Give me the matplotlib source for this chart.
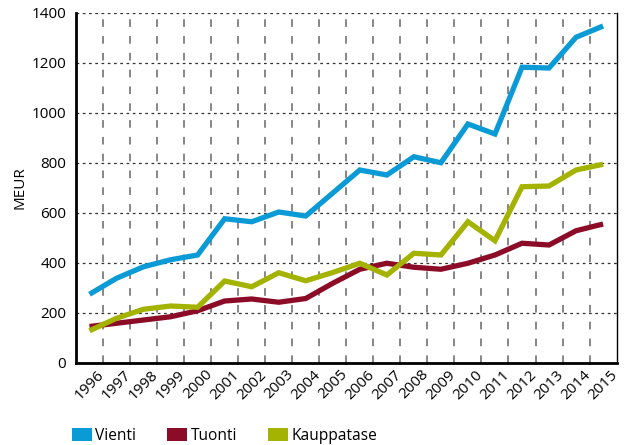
import matplotlib
matplotlib.use("Agg")
import matplotlib.pyplot as plt
from matplotlib.patches import Patch
import numpy as np

# Data (MEUR)
years = [str(y) for y in range(1996, 2016)]
vienti = [275, 339, 385, 413, 432, 577, 565, 604, 588, 680,
          772, 752, 825, 801, 956, 916, 1183, 1180, 1303, 1348]
tuonti = [146, 159, 172, 185, 209, 248, 256, 243, 258, 319,
          375, 399, 383, 375, 399, 432, 479, 472, 529, 556]
kauppatase = [129, 179, 215, 228, 223, 328, 305, 361, 329, 362,
              399, 352, 439, 432, 565, 489, 705, 708, 772, 795]

series_names = ["Vienti", "Tuonti", "Kauppatase"]
series_colors = ["#0a9bd7", "#8c0c28", "#a3b300"]

plt.rcParams['font.family'] = ['Open Sans', 'DejaVu Sans']

fig = plt.figure(figsize=(6.24, 4.45), dpi=100)
ax = fig.add_axes([76 / 624, 1 - 363 / 445, 540.6 / 624, 350 / 445])

x = np.arange(len(years))
for vals, col in zip([vienti, tuonti, kauppatase], series_colors):
    ax.plot(x, vals, color=col, lw=3.8, solid_joinstyle='miter',
            solid_capstyle='butt', zorder=3)

ax.set_xlim(-0.5, len(years) - 0.5)
ax.set_ylim(0, 1400)
ax.set_yticks(np.arange(0, 1401, 200))
ax.set_xticks(x)
ax.set_xticklabels(years, rotation=45, ha='center', fontsize=11)
ax.set_xticks(x[:-1] + 0.5, minor=True)
ax.tick_params(axis='both', which='both', length=0)
ax.tick_params(axis='y', labelsize=11, pad=7)
ax.tick_params(axis='x', pad=3)

# grid: dotted horizontal, dashed vertical at category boundaries
ax.grid(axis='y', which='major', color='#333333', lw=0.9,
        linestyle=(0, (2.2, 2.8)), zorder=1)
ax.grid(axis='x', which='minor', color='#666666', lw=1.1,
        linestyle=(0, (5, 6)), zorder=1)
ax.grid(axis='x', which='major', visible=False)

ax.spines['top'].set_visible(False)
ax.spines['left'].set_linewidth(2.0)
ax.spines['bottom'].set_linewidth(2.0)
ax.spines['right'].set_linewidth(1.0)

ax.set_ylabel('MEUR', fontsize=11, labelpad=3)

handles = [Patch(facecolor=c, edgecolor='none', label=n)
           for n, c in zip(series_names, series_colors)]
fig.legend(handles=handles, loc='center left', bbox_to_anchor=(0.115, 0.02),
           ncol=3, frameon=False, fontsize=11.2, handlelength=1.3,
           handleheight=0.9, handletextpad=0.2, columnspacing=2.0,
           borderpad=0, borderaxespad=0)

fig.savefig('out.png', dpi=100)
